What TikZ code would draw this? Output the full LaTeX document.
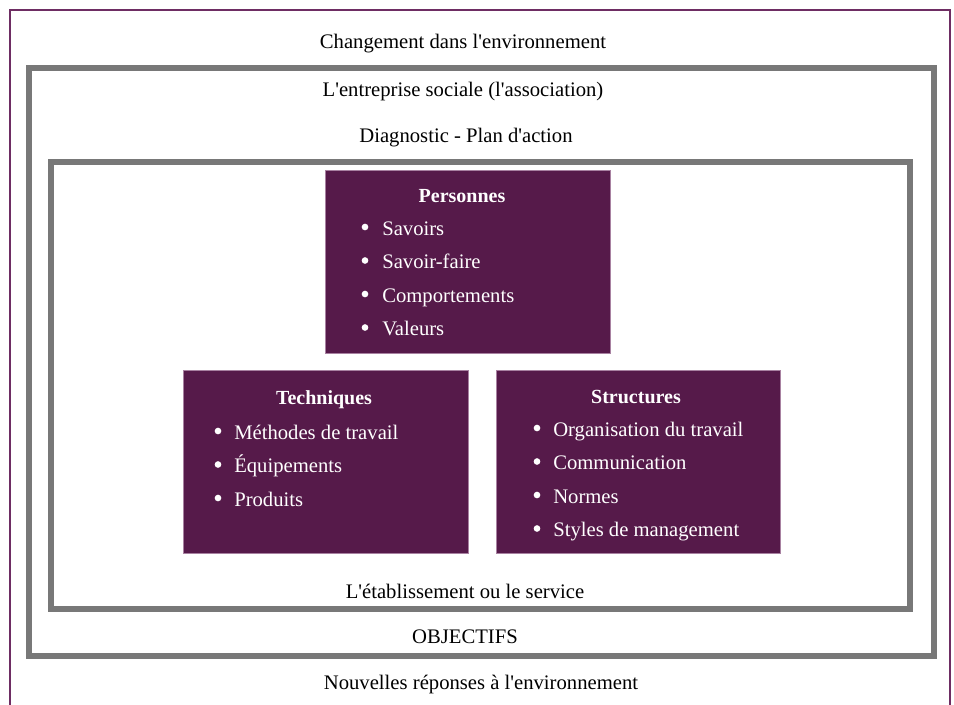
\documentclass[tikz,border=0pt]{standalone}
\usepackage{fontspec}
\setmainfont{Liberation Serif}
\usepackage{tikz}
\usetikzlibrary{positioning}
\usepackage{xcolor}
\definecolor{Plum}{HTML}{561A4A}
\definecolor{PlumLine}{HTML}{6E2D63}
\definecolor{Slate}{HTML}{787878}
\newcommand{\ap}{\textquotesingle}

\tikzset{
  frame/.style={draw=Slate,line width=4.5pt},
  block/.style={draw=PlumLine!60,fill=Plum,inner sep=0pt,anchor=north west},
  caption/.style={font=\fontsize{15.5}{18}\selectfont,text=black},
  head/.style={font=\bfseries\fontsize{15}{18}\selectfont,text=white},
  item/.style={font=\fontsize{15.5}{18}\selectfont,text=white,anchor=base west,inner sep=0pt},
  dot/.style={circle,fill=white,inner sep=0pt,minimum size=5pt}
}

\begin{document}
\begin{tikzpicture}[x=0.75pt,y=-0.75pt]
    \useasboundingbox (0,0) rectangle (954,704);
    \fill[white] (0,0) rectangle (954,704);

    % outer border and frames
    \draw[draw=PlumLine,line width=1.5pt] (9.5,9.5) rectangle (950,720);
    \draw[frame] (28.5,67.5) rectangle (933.5,656);
    \draw[frame] (51,161.5) rectangle (910,609);

    \node[caption] (change) at (463,44) {Changement dans l\ap environnement};
    \node[caption] (entreprise) at (463,92) {L\ap entreprise sociale (l\ap association)};
    \node[caption] (diagnostic) at (466,138) {Diagnostic - Plan d\ap action};
    \node[caption] (service) at (465,591) {L\ap établissement ou le service};
    \node[caption] (objectifs) at (465,637) {OBJECTIFS};
    \node[caption] (reponses) at (481,685) {Nouvelles réponses à l\ap environnement};

    % Personnes
    \node[block,minimum width=213.75pt,minimum height=137.25pt] (personnes) at (325,170) {};
    \node[head] at (462,196) {Personnes};
    \foreach \txt [count=\i] in {Savoirs,Savoir-faire,Comportements,Valeurs}{
      \node[dot] at (365,{193.5+\i*33.5}) {};
      \node[item] at (382,{201.5+\i*33.5}) {\txt};
    }

    % Techniques
    \node[block,minimum width=213.75pt,minimum height=137.25pt] (techniques) at (183,370) {};
    \node[head] at (324,400) {Techniques};
    \foreach \txt [count=\i] in {Méthodes de travail,Équipements,Produits}{
      \node[dot] at (218,{397.5+\i*33.5}) {};
      \node[item] at (234,{405.5+\i*33.5}) {\txt};
    }

    % Structures
    \node[block,minimum width=213pt,minimum height=137.25pt] (structures) at (496,370) {};
    \node[head] at (636,397) {Structures};
    \foreach \txt [count=\i] in {Organisation du travail,Communication,Normes,Styles de management}{
      \node[dot] at (537,{394.5+\i*33.5}) {};
      \node[item] at (553,{402.5+\i*33.5}) {\txt};
    }
\end{tikzpicture}
\end{document}
